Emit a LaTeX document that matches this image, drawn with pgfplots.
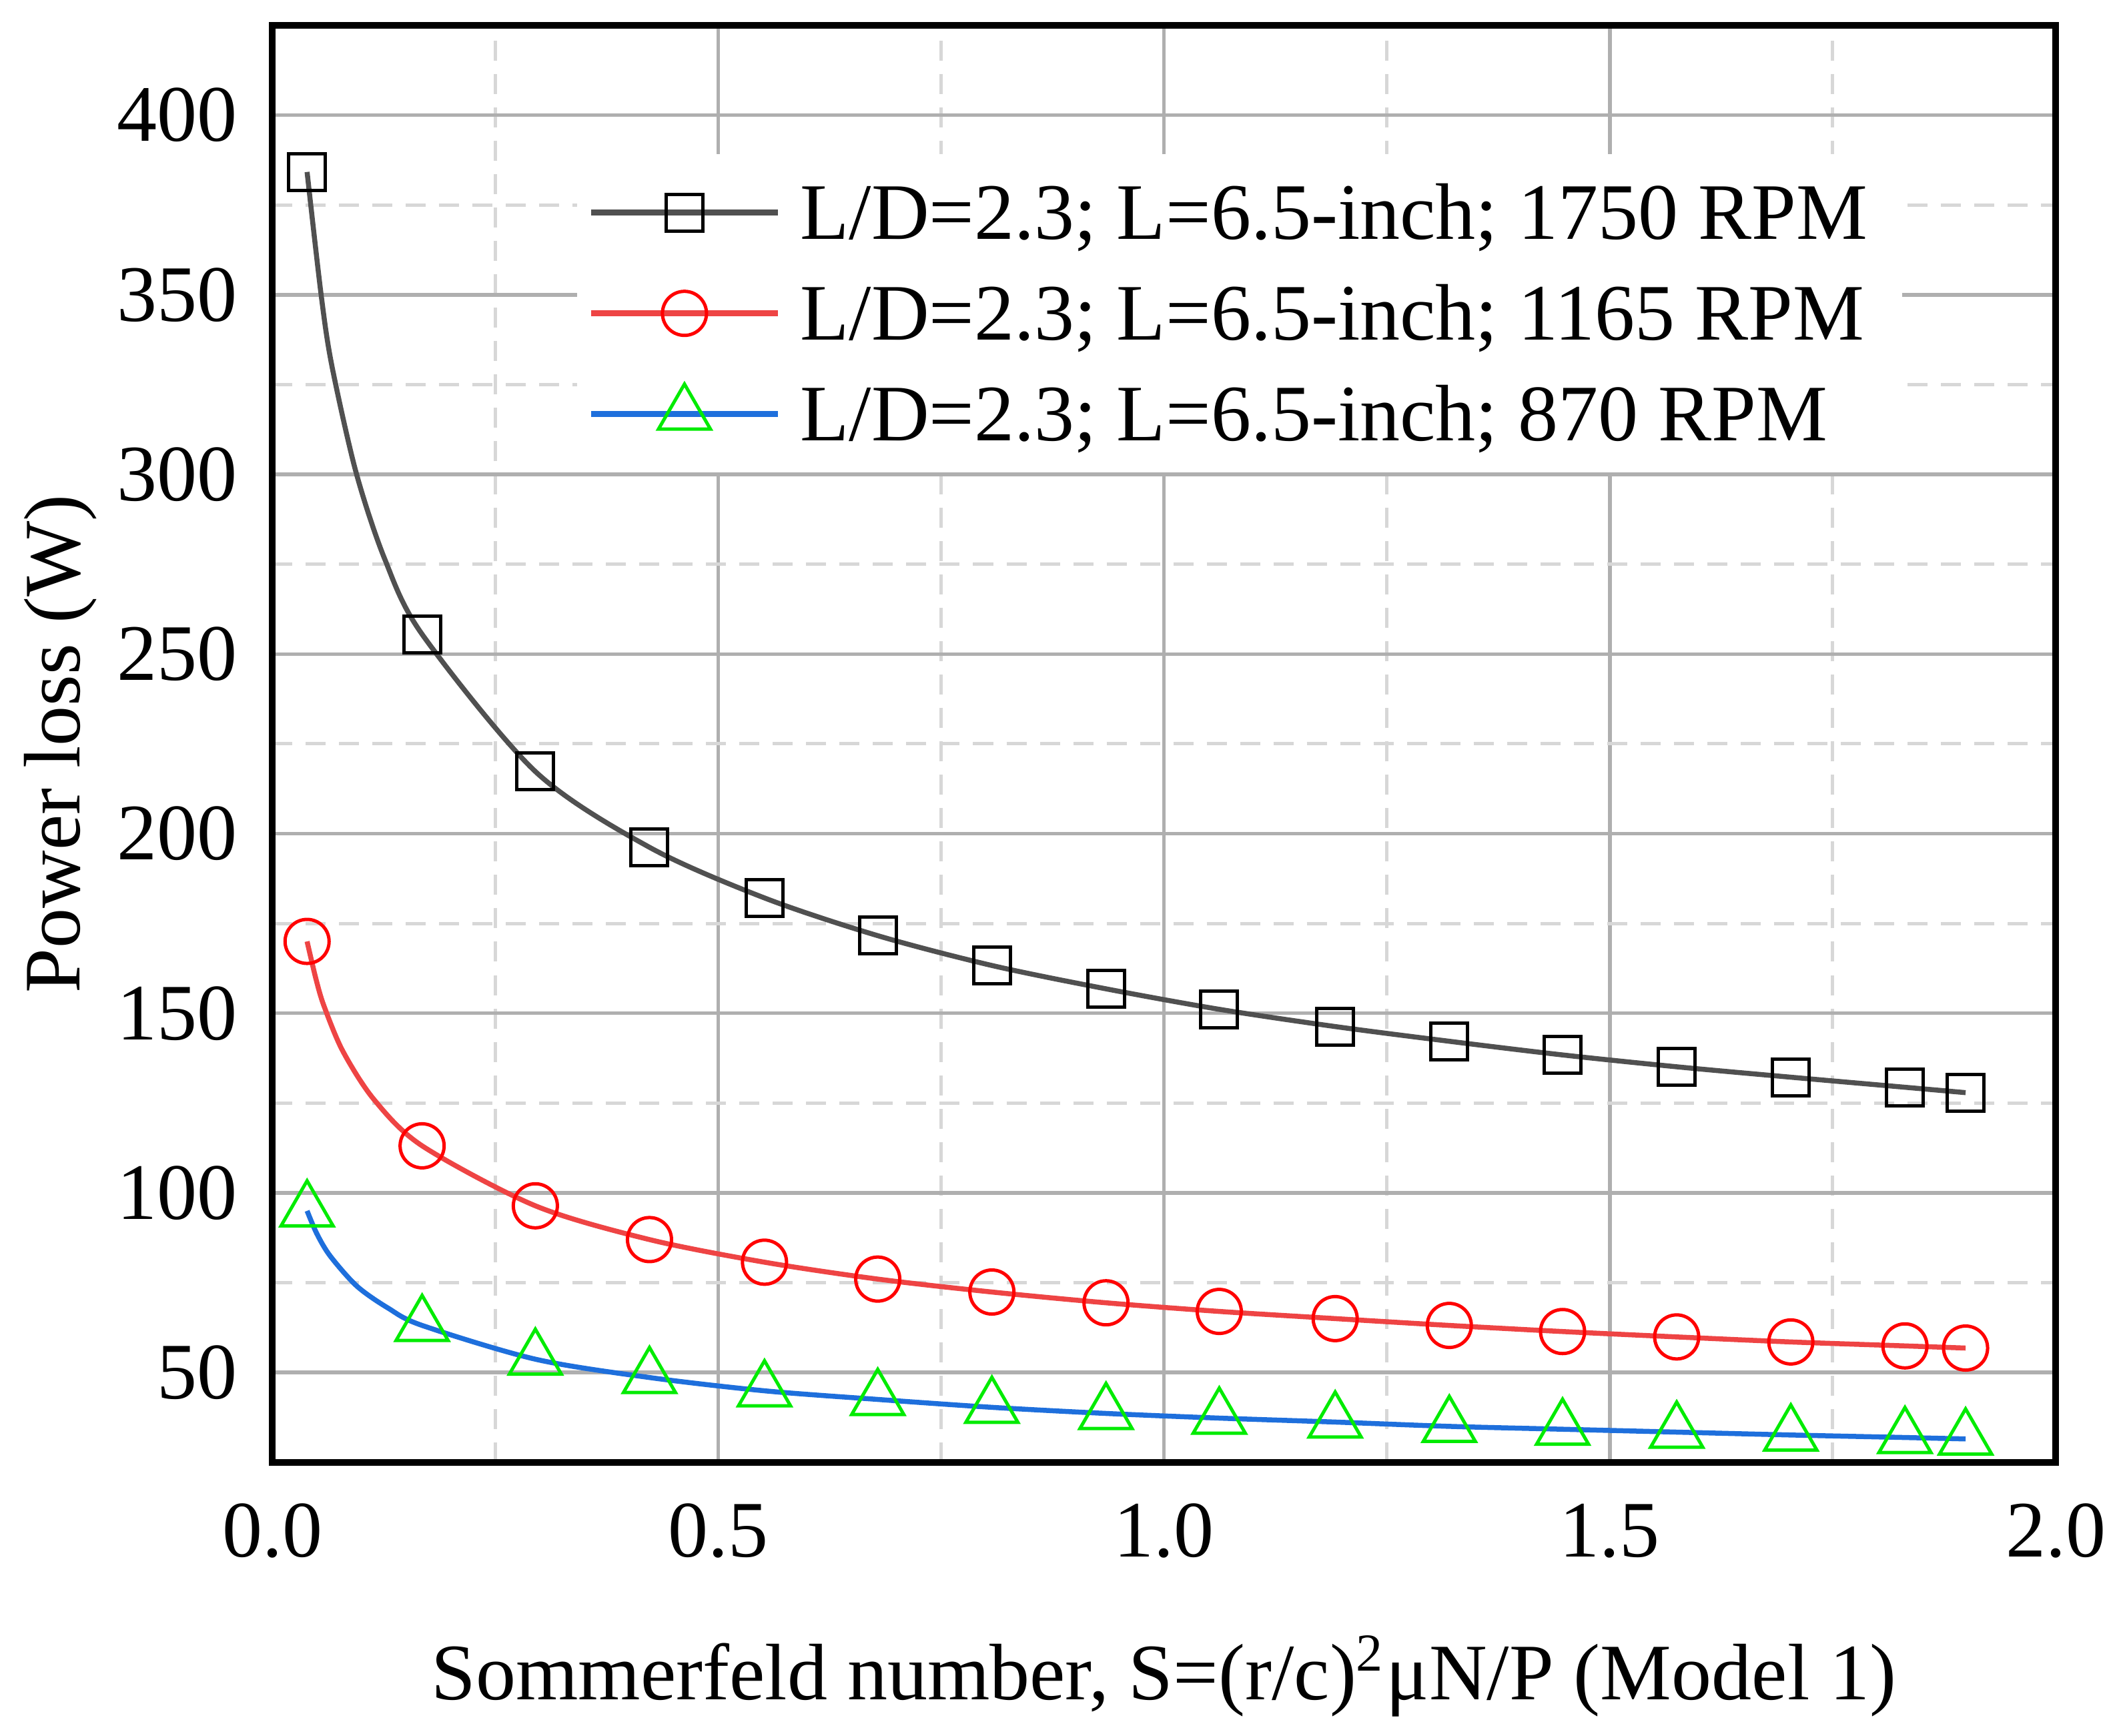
\documentclass[border=0pt]{standalone}
\usepackage{fontspec}
\setmainfont{Liberation Serif}
\usepackage{pgfplots}
\pgfplotsset{compat=1.18}
\definecolor{lineA}{RGB}{80,80,80}
\definecolor{lineB}{RGB}{238,68,68}
\definecolor{lineC}{RGB}{30,111,220}
\definecolor{markB}{RGB}{255,0,0}
\definecolor{markC}{RGB}{0,235,0}
\definecolor{gridmaj}{RGB}{175,175,175}
\definecolor{gridmin}{RGB}{215,215,215}
\begin{document}
\fontsize{12}{14}\selectfont
\begin{tikzpicture}
\begin{axis}[
  scale only axis, width=267.2pt, height=215.3pt,
  xmin=0, xmax=2, ymin=25, ymax=425,
  xtick={0,0.5,1,1.5,2}, ytick={50,100,150,200,250,300,350,400},
  minor x tick num=1, minor y tick num=1,
  major tick length=0pt, minor tick length=0pt,
  grid=both,
  major grid style={color=gridmaj, line width=0.55pt},
  minor grid style={color=gridmin, line width=0.5pt, dash pattern=on 3pt off 2pt},
  axis line style={line width=1pt, black},
  tick label style={font=\fontsize{12}{14}\selectfont},
  /pgf/number format/assume math mode=true,
  xticklabel style={/pgf/number format/.cd, fixed, fixed zerofill, precision=1, /tikz/.cd, yshift=-2pt},
  yticklabel style={xshift=-1.1pt},
  x label style={at={(axis description cs:0.5,-0.1654)}, anchor=base, font=\fontsize{12}{14}\selectfont},
  y label style={at={(axis description cs:-0.1186,0.5)}, anchor=center, font=\fontsize{12}{14}\selectfont},
  xlabel={Sommerfeld number, S=(r/c)\textsuperscript{2}μN/P (Model 1)},
  ylabel={Power loss (W)},
  legend cell align=left,
  legend style={draw=none, fill=white, at={(axis description cs:0.1703,0.9113)}, anchor=north west,
    inner xsep=1.6pt, inner ysep=1.2pt, row sep=0pt, column sep=2.9pt,
    nodes={inner sep=0pt, text height=11.5pt, text depth=3.6pt},
    font=\fontsize{12}{14}\selectfont},
  legend image code/.code={\draw[line width=0.9pt, mark repeat=2, mark phase=2] plot coordinates {(0pt,0pt) (14pt,0pt) (28pt,0pt)};},
]
% --- curves ---
\addplot[forget plot, color=lineA, line width=0.75pt, smooth, no markers] coordinates {
(0.039,384.2) (0.055,349.5) (0.067,330) (0.094,300.5) (0.126,276.5) (0.168,255.5)
(0.295,217.3) (0.423,196.2) (0.552,182.1) (0.679,171.6)
(0.807,163.3) (0.935,156.8) (1.062,151.1) (1.192,146.3) (1.320,142.2) (1.447,138.4)
(1.575,135.1) (1.703,132.2) (1.831,129.4) (1.899,127.9)};
\addplot[forget plot, color=lineB, line width=0.75pt, smooth, no markers] coordinates {
(0.039,170.0) (0.049,159.5) (0.058,152) (0.079,139.5) (0.114,126) (0.168,113.1)
(0.295,96.4) (0.423,87.0) (0.552,80.7) (0.679,76.0)
(0.807,72.4) (0.935,69.4) (1.062,67.0) (1.192,65.0) (1.320,63.1) (1.447,61.4)
(1.575,59.9) (1.703,58.5) (1.831,57.4) (1.899,56.8)};
\addplot[forget plot, color=lineC, line width=0.75pt, smooth, no markers] coordinates {
(0.039,95.0) (0.050,88.6) (0.065,82.4) (0.095,74.0) (0.130,67.9) (0.168,63.1)
(0.295,53.7) (0.423,48.6) (0.552,44.9) (0.679,42.5)
(0.807,40.3) (0.935,38.6) (1.062,37.3) (1.192,36.2) (1.320,35.0) (1.447,34.2)
(1.575,33.4) (1.703,32.6) (1.831,31.9) (1.899,31.5)};
% --- markers ---
\addplot[forget plot, only marks, mark=square, mark size=2.75pt,
  mark options={draw=black, line width=0.5pt, solid, fill=none}] coordinates {
(0.039,384.2) (0.168,255.5) (0.295,217.3) (0.423,196.2) (0.552,182.1) (0.679,171.6)
(0.807,163.3) (0.935,156.8) (1.062,151.1) (1.192,146.3) (1.320,142.2) (1.447,138.4)
(1.575,135.1) (1.703,132.2) (1.831,129.4) (1.899,127.9)};
\addplot[forget plot, only marks, mark=o, mark size=3.3pt,
  mark options={draw=markB, line width=0.5pt, solid, fill=none}] coordinates {
(0.039,170.0) (0.168,113.1) (0.295,96.4) (0.423,87.0) (0.552,80.7) (0.679,76.0)
(0.807,72.4) (0.935,69.4) (1.062,67.0) (1.192,65.0) (1.320,63.1) (1.447,61.4)
(1.575,59.9) (1.703,58.5) (1.831,57.4) (1.899,56.8)};
\addplot[forget plot, only marks, mark=triangle, mark size=4.5pt,
  mark options={draw=markC, line width=0.5pt, solid, fill=none}] coordinates {
(0.039,95.0) (0.168,63.1) (0.295,53.7) (0.423,48.6) (0.552,44.9) (0.679,42.5)
(0.807,40.3) (0.935,38.6) (1.062,37.3) (1.192,36.2) (1.320,35.0) (1.447,34.2)
(1.575,33.4) (1.703,32.6) (1.831,31.9) (1.899,31.5)};
% --- legend ---
\addlegendimage{color=lineA, line width=0.75pt, mark=square, mark size=2.75pt,
  mark options={draw=black, line width=0.5pt, solid, fill=none}}
\addlegendentry{L/D=2.3; L=6.5-inch; 1750 RPM\hspace*{3.6pt}}
\addlegendimage{color=lineB, line width=0.75pt, mark=o, mark size=3.3pt,
  mark options={draw=markB, line width=0.5pt, solid, fill=none}}
\addlegendentry{L/D=2.3; L=6.5-inch; 1165 RPM\hspace*{3.6pt}}
\addlegendimage{color=lineC, line width=0.75pt, mark=triangle, mark size=4.5pt,
  mark options={draw=markC, line width=0.5pt, solid, fill=none}}
\addlegendentry{L/D=2.3; L=6.5-inch; 870 RPM\hspace*{3.6pt}}
\end{axis}
\pgfresetboundingbox
\path (-40.8pt,-41pt) rectangle (276.4pt,219.1pt);
\end{tikzpicture}
\end{document}
